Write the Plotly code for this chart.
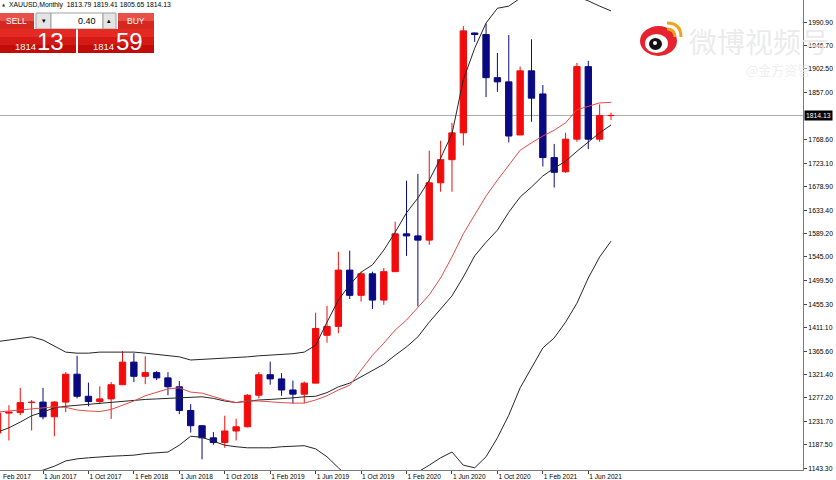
import plotly.graph_objects as go

# ---------------- data ----------------
months = ["2017-02", "2017-03", "2017-04", "2017-05", "2017-06", "2017-07", "2017-08", "2017-09",
          "2017-10", "2017-11", "2017-12", "2018-01", "2018-02", "2018-03", "2018-04", "2018-05",
          "2018-06", "2018-07", "2018-08", "2018-09", "2018-10", "2018-11", "2018-12", "2019-01",
          "2019-02", "2019-03", "2019-04", "2019-05", "2019-06", "2019-07", "2019-08", "2019-09",
          "2019-10", "2019-11", "2019-12", "2020-01", "2020-02", "2020-03", "2020-04", "2020-05",
          "2020-06", "2020-07", "2020-08", "2020-09", "2020-10", "2020-11", "2020-12", "2021-01",
          "2021-02", "2021-03", "2021-04", "2021-05", "2021-06", "2021-07", "2021-08"]

opens = [1210, 1248, 1249, 1268, 1269, 1241, 1269, 1322, 1280, 1270, 1275, 1302, 1345, 1318,
         1325, 1315, 1298, 1253, 1224, 1201, 1192, 1214, 1222, 1282, 1321, 1313, 1292, 1284,
         1305, 1396, 1413, 1520, 1472, 1513, 1463, 1517, 1589, 1585, 1577, 1686, 1730, 1781,
         1971, 1968, 1886, 1878, 1777, 1899, 1855, 1734, 1707, 1769, 1907, 1769, 1813.79]
highs = [1264, 1263, 1296, 1273, 1296, 1271, 1326, 1357, 1306, 1299, 1307, 1366, 1362, 1356,
         1328, 1326, 1309, 1265, 1225, 1212, 1243, 1237, 1284, 1326, 1346, 1324, 1310, 1308,
         1439, 1452, 1555, 1557, 1517, 1517, 1524, 1612, 1690, 1703, 1747, 1766, 1800, 1984,
         1972, 1989, 1933, 1967, 1907, 1959, 1872, 1760, 1781, 1914, 1918, 1835, 1819.41]
lows = [1200, 1196, 1244, 1215, 1236, 1204, 1250, 1276, 1261, 1265, 1237, 1302, 1307, 1303,
        1311, 1282, 1246, 1211, 1160, 1188, 1182, 1196, 1221, 1276, 1302, 1281, 1266, 1267,
        1305, 1382, 1400, 1465, 1460, 1446, 1454, 1517, 1547, 1451, 1568, 1669, 1669, 1757,
        1954, 1849, 1859, 1763, 1777, 1802, 1717, 1677, 1705, 1764, 1750, 1764, 1805.65]
closes = [1248, 1250, 1268, 1269, 1241, 1269, 1322, 1280, 1270, 1275, 1302, 1345, 1318, 1325,
          1315, 1298, 1253, 1224, 1201, 1192, 1214, 1222, 1282, 1321, 1313, 1292, 1284, 1305,
          1409, 1413, 1520, 1472, 1513, 1463, 1517, 1589, 1585, 1577, 1686, 1730, 1781, 1975,
          1968, 1886, 1878, 1775, 1899, 1847, 1734, 1706, 1769, 1907, 1769, 1814, 1814.13]

# Bollinger bands (upper / middle / lower) and red moving average
bb_upper = [1384, 1387, 1390, 1393, 1387, 1375, 1364, 1362, 1362, 1364, 1364, 1365, 1364, 1362,
            1360, 1358, 1355, 1349, 1350, 1351, 1352, 1353, 1355, 1357, 1358, 1360, 1361, 1364,
            1377, 1421, 1463, 1492, 1516, 1530, 1558, 1592, 1629, 1657, 1691, 1733, 1779, 1882,
            1942, 1990, 2018, 2022, 2037, 2049, 2057, 2057, 2049, 2041, 2032, 2022, 2013]
bb_mid = [1212, 1220, 1231, 1243, 1250, 1258, 1261, 1263, 1265, 1267, 1269, 1271, 1273, 1274,
          1275, 1276, 1277, 1278, 1279, 1276, 1271, 1268, 1271, 1273, 1274, 1275, 1277, 1279,
          1280, 1287, 1298, 1305, 1317, 1330, 1341, 1358, 1374, 1393, 1421, 1446, 1471, 1507,
          1547, 1573, 1596, 1630, 1659, 1678, 1699, 1714, 1727, 1746, 1764, 1781, 1796]
bb_lower = [1102, 1111, 1121, 1132, 1140, 1147, 1157, 1161, 1163, 1165, 1166, 1167, 1168, 1171,
            1172, 1174, 1187, 1204, 1202, 1195, 1187, 1184, 1182, 1182, 1182, 1184, 1185, 1186,
            1180, 1165, 1144, 1125, 1106, 1092, 1088, 1098, 1117, 1136, 1149, 1163, 1174, 1149,
            1144, 1165, 1201, 1244, 1296, 1334, 1372, 1391, 1421, 1457, 1505, 1545, 1575]
ma_red = [1250, 1252, 1254, 1256, 1258, 1260, 1259, 1254, 1252, 1251, 1255, 1263, 1271, 1281,
          1288, 1294, 1296, 1288, 1286, 1279, 1273, 1268, 1271, 1271, 1269, 1268, 1267, 1267,
          1273, 1281, 1292, 1301, 1330, 1358, 1381, 1406, 1425, 1448, 1473, 1505, 1545, 1589,
          1625, 1661, 1691, 1720, 1748, 1762, 1775, 1786, 1800, 1825, 1832, 1838, 1839]

xtick_idx = [4, 8, 12, 16, 20, 24, 28, 32, 36, 40, 44, 48, 52]
xtick_labels = ["1 Jun 2017", "1 Oct 2017", "1 Feb 2018", "1 Jun 2018", "1 Oct 2018",
                "1 Feb 2019", "1 Jun 2019", "1 Oct 2019", "1 Feb 2020", "1 Jun 2020",
                "1 Oct 2020", "1 Feb 2021", "1 Jun 2021"]
first_label = "Feb 2017"
ytick_vals = [1990.90, 1946.70, 1902.50, 1857.00, 1768.60, 1723.10, 1678.90, 1633.40, 1589.20,
              1545.00, 1499.50, 1455.30, 1411.10, 1365.60, 1321.40, 1277.20, 1231.70, 1187.50,
              1143.30]

symbol = "XAUUSD"
timeframe = "Monthly"
bid = 1814.13
ask = 1814.59
lot = 0.40

# ---------------- figure ----------------
W, H = 836, 480
ML, MR, MT, MB = 0, 33, 0, 10
PW, PH = W - ML - MR, H - MT - MB

def PX(x):
    return (x - ML) / PW

def PY(y):
    return 1 - (y - MT) / PH

BULL = "#f20c0c"
BEAR = "#0a0a82"
xs = list(range(len(months)))

fig = go.Figure()

# candle bodies
base = [min(o, c) for o, c in zip(opens, closes)]
height = [abs(c - o) for o, c in zip(opens, closes)]
cols = [BULL if c >= o else BEAR for o, c in zip(opens, closes)]
fig.add_trace(go.Bar(x=xs, y=height, base=base, width=0.56,
                     marker=dict(color=cols, line=dict(color=cols, width=1)),
                     hoverinfo="skip"))

# wicks
for col, is_bull in ((BULL, True), (BEAR, False)):
    wx, wy = [], []
    for i, (o, h, l, c) in enumerate(zip(opens, highs, lows, closes)):
        if (c >= o) == is_bull:
            wx += [i, i, None]
            wy += [l, h, None]
    fig.add_trace(go.Scatter(x=wx, y=wy, mode="lines", line=dict(color=col, width=1),
                             hoverinfo="skip"))

# indicator lines
for series in (bb_upper, bb_mid, bb_lower):
    fig.add_trace(go.Scatter(x=xs, y=series, mode="lines", line=dict(color="#262626", width=1),
                             hoverinfo="skip"))
fig.add_trace(go.Scatter(x=xs, y=ma_red, mode="lines", line=dict(color="#e24a4a", width=1),
                         hoverinfo="skip"))

shapes = []
annotations = []

# bid line
shapes.append(dict(type="line", xref="paper", yref="y", x0=0, x1=1, y0=bid, y1=bid,
                   line=dict(color="#a8a8a8", width=1), layer="below"))

# bid price box on the axis
annotations.append(dict(xref="paper", yref="y", x=1, y=bid, xanchor="left", yanchor="middle",
                        xshift=1, text=f"{bid:.2f}", showarrow=False, bgcolor="black",
                        borderpad=1, font=dict(family="Liberation Sans", size=6.8, color="white")))

# first (clipped) date label
annotations.append(dict(xref="paper", yref="paper", x=PX(1), y=PY(476.5), xanchor="left",
                        yanchor="middle", text=first_label, showarrow=False,
                        font=dict(family="Liberation Sans", size=6.6, color="black")))

# header
annotations.append(dict(xref="paper", yref="paper", x=PX(0), y=PY(4.5), xanchor="left",
                        yanchor="middle", text="▲", showarrow=False,
                        font=dict(family="DejaVu Sans", size=4, color="#333")))
annotations.append(dict(xref="paper", yref="paper", x=PX(7), y=PY(4.5), xanchor="left",
                        yanchor="middle",
                        text=f"{symbol},{timeframe}  {opens[-1]:.2f} {highs[-1]:.2f} {lows[-1]:.2f} {closes[-1]:.2f}",
                        showarrow=False, font=dict(family="Liberation Sans", size=6.8, color="black")))

def rect(x0, y0, x1, y1, fill, line=None, lw=0):
    shapes.append(dict(type="rect", xref="paper", yref="paper", x0=PX(x0), x1=PX(x1),
                       y0=PY(y1), y1=PY(y0), fillcolor=fill,
                       line=dict(color=line or fill, width=lw), layer="above"))

def text(x, y, s, size, color="white", family="Liberation Sans", anchor="center"):
    annotations.append(dict(xref="paper", yref="paper", x=PX(x), y=PY(y), xanchor=anchor,
                            yanchor="middle", text=s, showarrow=False,
                            font=dict(family=family, size=size, color=color)))

# one-click trading panel
rect(0, 13, 34, 21, "#e8514a")
rect(0, 21, 34, 29, "#d42820")
rect(36, 13, 51, 29, "#e4e4e4", "#a0a0a0", 1)
rect(51, 13, 103, 29, "#ffffff", "#a0a0a0", 1)
rect(103, 13, 116, 29, "#e4e4e4", "#a0a0a0", 1)
rect(118, 13, 154, 21, "#e8514a")
rect(118, 21, 154, 29, "#d42820")
for x0 in (0, 78):
    rect(x0, 29, x0 + 76, 37, "#e52a24")
    rect(x0, 37, x0 + 76, 45, "#d41a14")
    rect(x0, 45, x0 + 76, 53, "#c20c0a")
text(16.5, 21, "SELL", 8.5)
text(136, 21, "BUY", 8.5)
text(43.5, 21, "▾", 7, "black", "DejaVu Sans")
text(109.5, 21, "▴", 7, "black", "DejaVu Sans")
text(98, 21, f"{lot:.2f}", 9, "black", anchor="right")
bid_s, ask_s = f"{bid:.2f}", f"{ask:.2f}"
text(25, 46, bid_s[:4], 9.5)
text(50, 41.5, bid_s[5:7], 24)
text(104, 46, ask_s[:4], 9.5)
text(129.5, 41.5, ask_s[5:7], 24)

# watermark (weibo)
shapes.append(dict(type="circle", xref="paper", yref="paper", x0=PX(640), x1=PX(677),
                   y0=PY(56), y1=PY(26), fillcolor="#e6232f", line=dict(width=0), layer="above"))
shapes.append(dict(type="circle", xref="paper", yref="paper", x0=PX(645), x1=PX(668),
                   y0=PY(53), y1=PY(34), fillcolor="#ffffff", line=dict(width=0), layer="above"))
shapes.append(dict(type="circle", xref="paper", yref="paper", x0=PX(649), x1=PX(662),
                   y0=PY(50), y1=PY(38), fillcolor="#111111", line=dict(width=0), layer="above"))
shapes.append(dict(type="circle", xref="paper", yref="paper", x0=PX(653), x1=PX(657),
                   y0=PY(45), y1=PY(41), fillcolor="#ffffff", line=dict(width=0), layer="above"))
for r in (14, 8):
    cx, cy = 667, 37
    path = (f"M {PX(cx)},{PY(cy - r)} Q {PX(cx + r)},{PY(cy - r)} {PX(cx + r)},{PY(cy)}")
    shapes.append(dict(type="path", xref="paper", yref="paper", path=path,
                       line=dict(color="#f2a31b", width=3), layer="above"))
annotations.append(dict(xref="paper", yref="paper", x=PX(687), y=PY(41), xanchor="left",
                        yanchor="middle", text="微博视频号", showarrow=False,
                        font=dict(family="Noto Sans CJK SC", size=28, color="rgba(230,230,230,0.8)")))
annotations.append(dict(xref="paper", yref="paper", x=PX(744), y=PY(69), xanchor="left",
                        yanchor="middle", text="@金方资管", showarrow=False,
                        font=dict(family="Noto Sans CJK SC", size=13, color="rgba(232,232,232,0.7)")))

fig.update_layout(
    width=W, height=H,
    margin=dict(l=ML, r=MR, t=MT, b=MB),
    paper_bgcolor="white", plot_bgcolor="white",
    showlegend=False, hovermode=False,
    shapes=shapes, annotations=annotations,
    xaxis=dict(range=[0.215, 70.9], showgrid=False, zeroline=False, showline=True,
               linecolor="#7a7a7a", linewidth=1, ticks="outside", ticklen=3, tickcolor="#444",
               tickvals=xtick_idx, ticktext=xtick_labels, ticklabelposition="outside right",
               tickfont=dict(family="Liberation Sans", size=6.6, color="black"), fixedrange=True),
    yaxis=dict(range=[1139.8, 2033.7], side="right", showgrid=False, zeroline=False,
               showline=True, linecolor="#7a7a7a", linewidth=1, ticks="outside", ticklen=3,
               tickcolor="#444", tickvals=ytick_vals, ticktext=[f"{v:.2f}" for v in ytick_vals],
               tickfont=dict(family="Liberation Sans", size=6.8, color="black"), fixedrange=True),
)

fig.write_html("out.html", config={"displayModeBar": False},
               post_script="document.body.style.margin='0px';document.body.style.overflow='hidden';")
